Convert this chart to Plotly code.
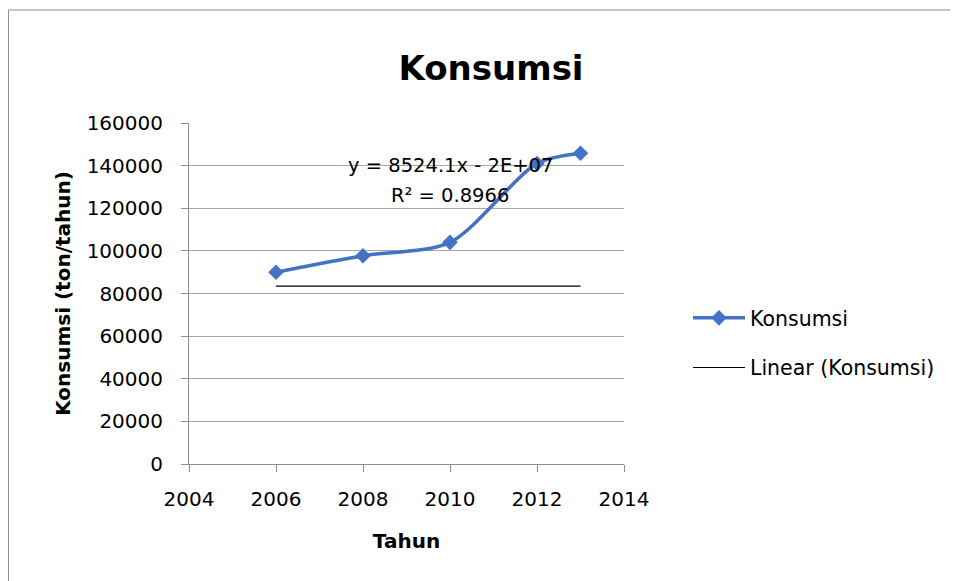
import plotly.graph_objects as go

years = [2006, 2008, 2010, 2012, 2013]
konsumsi = [90000, 97700, 104000, 141000, 145800]
trend_x = [2006, 2013]
trend_y = [83500, 83500]
x_ticks = [2004, 2006, 2008, 2010, 2012, 2014]
y_ticks = [0, 20000, 40000, 60000, 80000, 100000, 120000, 140000, 160000]
eq_text = "y = 8524.1x - 2E+07"
r2_text = "R² = 0.8966"

FONT = "DejaVu Sans"
SH = 8  # page body margin offset
L, T, PW, PH = 189 - SH, 123 - SH, 435, 341
W, H = 958, 581

fig = go.Figure()
fig.add_trace(go.Scatter(
    x=years, y=konsumsi, name="Konsumsi", mode="lines+markers",
    legendgroup="a",
    line=dict(color="#4472C4", width=3.5, shape="spline", smoothing=0.8),
    marker=dict(symbol="diamond", size=12, color="#4472C4"),
))
fig.add_trace(go.Scatter(
    x=trend_x, y=trend_y, name="Linear (Konsumsi)", mode="lines",
    legendgroup="b",
    line=dict(color="black", width=1.2),
))

fig.add_annotation(x=2010.0, y=(464 - 165) / 341 * 160000, xref="x", yref="y",
                   text=eq_text, showarrow=False, align="center",
                   font=dict(family=FONT, size=19.5, color="black"))
fig.add_annotation(x=2010.0, y=(464 - 195) / 341 * 160000, xref="x", yref="y",
                   text=r2_text, showarrow=False, align="center",
                   font=dict(family=FONT, size=19.5, color="black"))

fig.add_shape(type="rect", xref="paper", yref="paper",
              x0=(0.5 - L) / PW, x1=2.0, y0=-0.6, y1=1 + (123 - 10) / PH,
              line=dict(color="#8c8c8c", width=1), layer="below")

fig.update_layout(
    width=W, height=H,
    margin=dict(l=L, r=W - L - PW, t=T, b=H - T - PH),
    paper_bgcolor="white", plot_bgcolor="white",
    title=dict(text="<b>Konsumsi</b>", x=(491 - SH) / W, xanchor="center",
               y=1 - (68 - SH) / H, yanchor="middle",
               font=dict(family=FONT, size=34, color="black")),
    font=dict(family=FONT, size=20, color="black"),
    showlegend=True,
    legend=dict(x=(688 - 189) / PW, y=1 - (298 - 123) / PH, xanchor="left", yanchor="top",
                font=dict(family=FONT, size=20.5), tracegroupgap=20, itemwidth=52,
                bgcolor="rgba(0,0,0,0)"),
    xaxis=dict(range=[2004, 2014], tickvals=x_ticks, tickformat="d", showgrid=False,
               showline=True, linecolor="#8c8c8c", ticks="outside",
               ticklen=7, tickcolor="#8c8c8c", zeroline=False, ticklabelstandoff=10,
               title=dict(text="<b>Tahun</b>", font=dict(size=20), standoff=23),
               tickfont=dict(size=20)),
    yaxis=dict(range=[0, 160000], tickvals=y_ticks, tickformat="d", showgrid=True,
               gridcolor="#a6a6a6", gridwidth=1,
               showline=True, linecolor="#8c8c8c", ticks="outside",
               ticklen=7, tickcolor="#8c8c8c", zeroline=False, ticklabelstandoff=14,
               title=dict(text="<b>Konsumsi (ton/tahun)</b>", font=dict(size=20), standoff=10),
               tickfont=dict(size=20)),
)

fig.write_html("out.html")
